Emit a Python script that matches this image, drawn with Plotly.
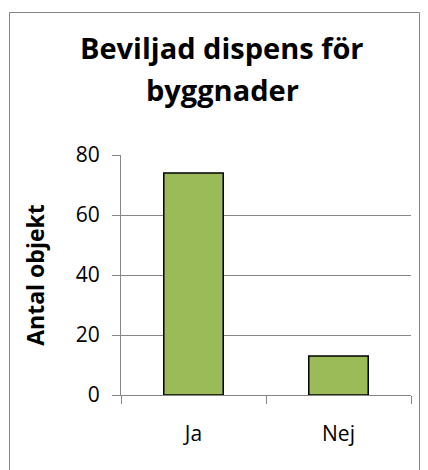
import plotly.graph_objects as go

categories = ["Ja", "Nej"]
values = [74, 13]
y_ticks = [0, 20, 40, 60, 80]

W, H = 428, 470
L, R, T, B = 121, 17, 155, 75
pw, ph = W - L - R, H - T - B

def px_x(p):
    return (p - L) / pw

def px_y(p):
    return (H - B - p) / ph

font = "Open Sans"

fig = go.Figure(go.Bar(
    x=categories, y=values, width=0.41,
    marker=dict(color="#9BBB59", line=dict(color="black", width=1.5)),
))

fig.update_layout(
    width=W, height=H,
    margin=dict(l=L, r=R, t=T, b=B),
    paper_bgcolor="white", plot_bgcolor="white",
    showlegend=False,
    font=dict(family=font, color="black", size=18),
    xaxis=dict(
        showline=True, linecolor="#868686", linewidth=1,
        ticks="outside", tickson="boundaries", ticklen=8, tickcolor="#868686",
        tickfont=dict(size=21), ticklabelstandoff=20,
    ),
    yaxis=dict(
        range=[0, 80], tickvals=y_ticks,
        showline=True, linecolor="#868686", linewidth=1,
        showgrid=True, gridcolor="#868686", gridwidth=1,
        ticks="outside", ticklen=8, tickcolor="#868686",
        tickfont=dict(size=21), zeroline=False, ticklabelstandoff=8,
        title=dict(text="<b>Antal objekt</b>", font=dict(size=23), standoff=24),
    ),
    shapes=[dict(
        type="rect", xref="paper", yref="paper",
        x0=px_x(9.5), x1=px_x(419.5), y0=px_y(490), y1=px_y(12.5),
        line=dict(color="#868686", width=1), fillcolor="rgba(0,0,0,0)",
        layer="below",
    )],
    annotations=[
        dict(text="<b>Beviljad dispens för</b>", xref="paper", yref="paper",
             x=px_x(222), y=px_y(47), showarrow=False,
             font=dict(size=29, family=font), xanchor="center", yanchor="middle"),
        dict(text="<b>byggnader</b>", xref="paper", yref="paper",
             x=px_x(222), y=px_y(89), showarrow=False,
             font=dict(size=29, family=font), xanchor="center", yanchor="middle"),
    ],
)

fig.write_html("out.html", config={"displayModeBar": False},
               post_script="document.body.style.margin='0';document.body.style.overflow='hidden';")
